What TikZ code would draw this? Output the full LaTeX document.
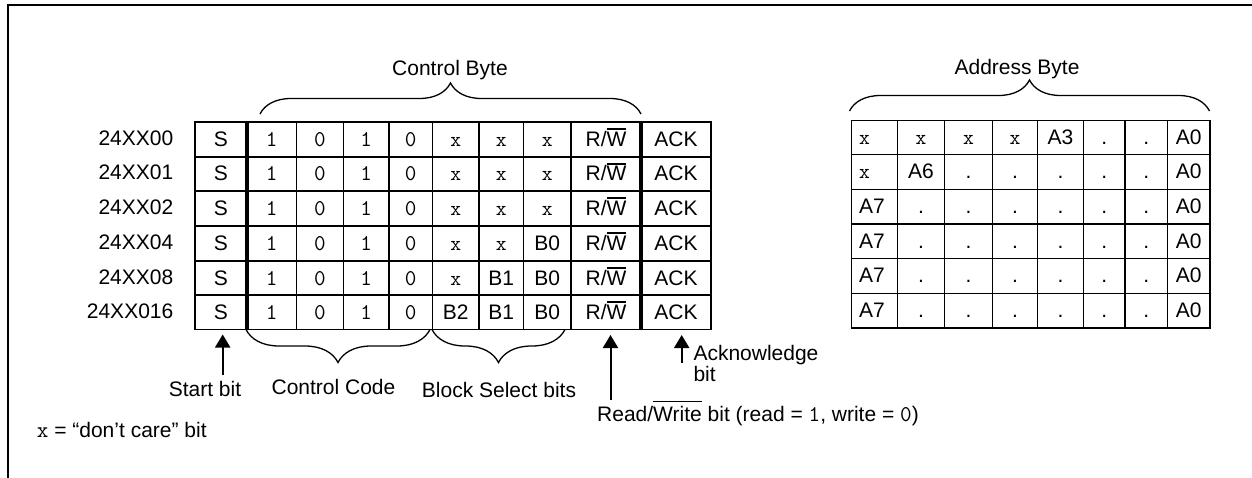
\documentclass[tikz,border=0pt]{standalone}
\usepackage{fontspec}
\setmainfont{Liberation Sans}
\usetikzlibrary{decorations.pathreplacing,arrows.meta,calc}
\newcommand{\myovl}[2][2pt]{\setbox0=\hbox{#2}\rlap{\raisebox{\dimexpr\ht0+#1\relax}{\rule{\wd0}{1.8pt}}}\box0\relax}
\newcommand{\mx}{\texttt{x}}
\begin{document}
\begin{tikzpicture}[x=1pt, y=-1pt,
  every node/.style={font=\fontsize{21}{25}\selectfont, inner sep=0pt},
  txt/.style={anchor=base},
  mono/.style={anchor=base, font=\fontsize{22.5}{25}\selectfont\ttfamily},
  grid/.style={line width=1.6pt},
  sepline/.style={line width=4.6pt},
  brc/.style={decorate, decoration={brace, amplitude=#1}, line width=1.3pt},
  arr/.style={line width=2pt, -{Triangle[length=13pt,width=15pt]}}]
\useasboundingbox (0,0) rectangle (1252,478);
% frame
\draw[line width=2pt, line join=miter] (1252,5) -- (7.5,5) -- (7.5,478);

% ---------- control byte table ----------
\foreach \x in {195,296.5,343.5,389,432.5,479,523.5,571,711}
  \draw[grid] (\x,121.2) -- (\x,330.3);
\foreach \x in {247,641}
  \draw[sepline] (\x,121.2) -- (\x,330.3);
\foreach \y in {122,157,191,226,261,295,329.5}
  \draw[grid] (194.2,\y) -- (711.8,\y);

\foreach \y/\a/\b/\c/\lab [count=\r] in {
  139.5/\mx/\mx/\mx/24XX00,
  174/\mx/\mx/\mx/24XX01,
  208.5/\mx/\mx/\mx/24XX02,
  243.5/\mx/\mx/B0/24XX04,
  278/\mx/B1/B0/24XX08,
  312.5/B2/B1/B0/24XX016}{
  \node[txt, anchor=base east] (lab\r) at (173.5,\y+6) {\lab};
  \node[txt] (L\r-1) at (221,\y+7) {S};
  \node[mono] (L\r-2) at (271.75,\y+7) {1};
  \node[mono] (L\r-3) at (320,\y+7) {0};
  \node[mono] (L\r-4) at (366.25,\y+7) {1};
  \node[mono] (L\r-5) at (410.75,\y+7) {0};
  \node[txt] (L\r-6) at (455.75,\y+7) {\a};
  \node[txt] (L\r-7) at (501.25,\y+7) {\b};
  \node[txt] (L\r-8) at (547.25,\y+7) {\c};
  \node[txt] (L\r-9) at (606,\y+7) {R/\myovl{W}};
  \node[txt] (L\r-10) at (676,\y+7) {ACK};
}

% ---------- address byte table ----------
\foreach \x in {851.5,897.5,944.5,992.5,1037.5,1083.5,1125,1167.5,1210}
  \draw[grid] (\x,119.7) -- (\x,328.5);
\foreach \y in {120.5,154.5,189.5,224,258.5,293.5,327.7}
  \draw[grid] (850.7,\y) -- (1210.8,\y);

\foreach \y/\p/\q/\s/\t/\u/\v/\w [count=\r] in {
  137.5/\mx/\mx/\mx/\mx/A3/./.,
  172/\mx/A6/./././././,
  206.75/A7/./././././.,
  241.25/A7/./././././.,
  276/A7/./././././.,
  310.6/A7/./././././.}{
  \node[txt, anchor=base west] (A\r-1) at (859,\y+7) {\p};
  \node[txt] (A\r-2) at (921,\y+7) {\q};
  \node[txt] (A\r-3) at (968.5,\y+7) {\s};
  \node[txt] (A\r-4) at (1015,\y+7) {\t};
  \node[txt] (A\r-5) at (1060.5,\y+7) {\u};
  \node[txt] (A\r-6) at (1104.25,\y+7) {\v};
  \node[txt] (A\r-7) at (1146.25,\y+7) {\w};
  \node[txt] (A\r-8) at (1188.75,\y+7) {A0};
}

% ---------- braces and titles ----------
\node[txt] (cbyte) at (450,76) {Control Byte};
\draw[brc=31pt] (260,114) -- (641,114);
\node[txt] (abyte) at (1017,75) {Address Byte};
\draw[brc=31pt] (849.5,111) -- (1209.5,111);

\draw[brc=33pt] (430,329.5) -- (246,329.5);
\draw[brc=33pt] (565,329.5) -- (432,329.5);

% ---------- bottom labels ----------
\node[txt] (startlbl) at (205,396.7) {Start bit};
\node[txt] (ccode) at (333.5,394.3) {Control Code};
\node[txt] (bsel) at (499,397.7) {Block Select bits};
\node[txt, anchor=base west] (rwlbl) at (597,421.7)
  {Read/\myovl[4pt]{Write} bit (read = {\fontsize{22.5}{25}\selectfont\ttfamily 1}, write = {\fontsize{22.5}{25}\selectfont\ttfamily 0})};
\node[txt, anchor=base west] (ack1) at (693.3,360) {Acknowledge};
\node[txt, anchor=base west] (ack2) at (693.3,381.7) {bit};
\node[txt, anchor=base west] (dc) at (36.7,437) {{\fontsize{22.5}{25}\selectfont\ttfamily x} = “don’t care” bit};

% ---------- arrows ----------
\coordinate (sTip) at (222.7,334.5);
\coordinate (rwTip) at (610.5,335);
\coordinate (ackTip) at (681.7,335);
\coordinate (ackEnd) at (681.7,363);
\draw[arr] ($(startlbl.north -| sTip)+(0,-6)$) -- (sTip);
\draw[arr] (rwlbl.north -| rwTip) -- (rwTip);
\draw[arr] (ackEnd) -- (ackTip);
\end{tikzpicture}
\end{document}
